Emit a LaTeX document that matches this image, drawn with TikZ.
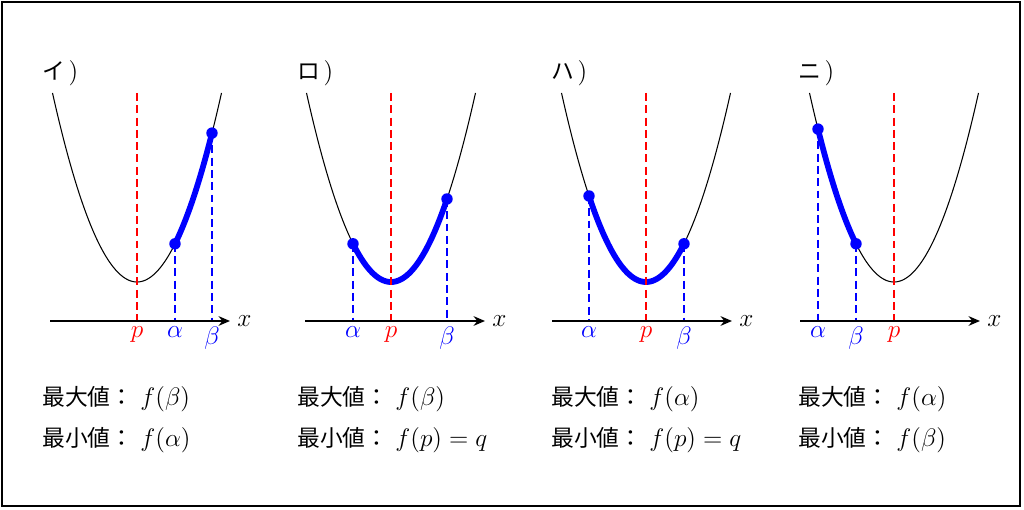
\documentclass[tikz,border=0pt]{standalone}
\usepackage{fontspec}
\newfontfamily\cjk[Scale=0.9]{Noto Sans CJK JP}
\usetikzlibrary{arrows.meta}
\tikzset{
  every node/.style={font=\fontsize{14.4}{17}\selectfont},
  frame/.style={line width=1.2pt},
  curve/.style={black, line width=0.6pt},
  hiseg/.style={blue, line width=3.3pt},
  pline/.style={red, line width=1.4pt, dash pattern=on 4.5pt off 2.5pt},
  bline/.style={blue, line width=1.4pt, dash pattern=on 4.5pt off 2.5pt},
  xaxis/.style={line width=1.3pt, -{Stealth[length=6.5pt,width=5.5pt]}},
  dotnode/.style={circle, fill=blue, inner sep=0pt, minimum size=6.5pt},
  txt/.style={anchor=base west, inner sep=0pt},
}
% #1 id, #2 text left, #3 axis start, #4 p, #5 alpha, #6 beta, #7 heading, #8 max, #9 min
\newcommand\mypanel[9]{%
  \coordinate (O#1) at (#3,321);
  \coordinate (E#1) at ({#3+180},321);
  \coordinate (T#1) at (#4,93);
  \coordinate (P#1) at (#4,321);
  \coordinate (Ax#1) at (#5,321);
  \coordinate (Bx#1) at (#6,321);
  \draw[curve] plot[domain={#4-84.5}:{#4+84.5}, samples=90] (\x,{282-0.02647*(\x-#4)^2});
  \draw[hiseg] plot[domain=#5:#6, samples=50] (\x,{282-0.02647*(\x-#4)^2});
  \node[dotnode] (A#1) at (#5,{282-0.02647*(#5-#4)^2}) {};
  \node[dotnode] (B#1) at (#6,{282-0.02647*(#6-#4)^2}) {};
  \draw[bline] (A#1.center) -- (Ax#1);
  \draw[bline] (B#1.center) -- (Bx#1);
  \draw[pline] (T#1) -- (P#1);
  \draw[xaxis] (O#1) -- (E#1);
  \node[right, inner sep=4pt] (X#1) at (E#1) {$x$};
  \node[below, red, inner sep=3pt] (Lp#1) at (P#1) {$p$};
  \node[below, blue, inner sep=3pt] (La#1) at (Ax#1) {$\alpha$};
  \node[below, blue, inner sep=3pt] (Lb#1) at (Bx#1) {$\beta$};
  \node[txt] (H#1) at (#2,80) {{\cjk #7}\kern2pt)};
  \node[txt] (M#1) at (#2,405) {{\cjk 最大値：}\kern4pt#8};
  \node[txt] (N#1) at (#2,446) {{\cjk 最小値：}\kern4pt#9};
}
\begin{document}
\begin{tikzpicture}[x=0.02cm, y=-0.02cm]
  \useasboundingbox (0,0) rectangle (1024,510);
  \draw[frame] (1.8,1.8) rectangle (1020.2,506);
  \mypanel{1}{42}{50}{137}{175}{212}{イ}{$f(\beta)$}{$f(\alpha)$}
  \mypanel{2}{297}{305}{391}{353}{447}{ロ}{$f(\beta)$}{$f(p)=q$}
  \mypanel{3}{551}{552}{646}{589}{684}{ハ}{$f(\alpha)$}{$f(p)=q$}
  \mypanel{4}{798}{800}{894}{818}{856}{ニ}{$f(\alpha)$}{$f(\beta)$}
\end{tikzpicture}
\end{document}
